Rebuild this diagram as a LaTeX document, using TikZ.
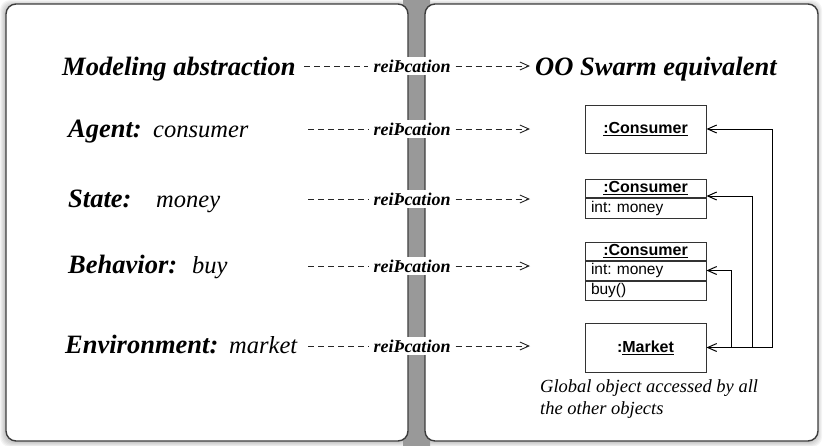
\documentclass[tikz,border=0pt]{standalone}
\usepackage{fontspec}
\setmainfont{Liberation Serif}
\newfontfamily\uisans{Liberation Sans}
\usetikzlibrary{arrows.meta,calc}
\frenchspacing

\definecolor{panelline}{HTML}{3C3C3C}

\begin{document}
\begin{tikzpicture}[x=1pt,y=-1pt,
  panel/.style={draw=panelline, line width=1.4pt, fill=white, rounded corners=10pt},
  concept/.style={anchor=base west, inner sep=0pt, font=\fontsize{26.5}{30}\selectfont\bfseries\itshape},
  example/.style={anchor=base west, inner sep=0pt, font=\fontsize{24.5}{28}\selectfont\itshape},
  reif/.style={fill=white, inner xsep=5pt, inner ysep=3pt, font=\fontsize{18}{20}\selectfont\bfseries\itshape},
  maplink/.style={draw=black!85, line width=0.9pt, dash pattern=on 6pt off 4pt},
  mapto/.style={maplink, -{Straight Barb[length=9pt,width=8pt]}},
  umlhead/.style={draw=black!80, line width=1pt, minimum width=121pt, inner sep=0pt,
    font=\uisans\fontsize{16}{18}\selectfont\bfseries},
  umlfield/.style={draw=black!80, line width=1pt, minimum width=121pt, text width=109pt,
    inner xsep=6pt, inner ysep=0pt, align=left, font=\uisans\fontsize{15.5}{17}\selectfont},
  refarrow/.style={draw=black, line width=1pt, -{Straight Barb[length=9pt,width=8pt]}},
]
\useasboundingbox (0,0) rectangle (824,445);

% soft shadows under the two panels
\foreach \k in {1,...,5}{
  \fill[black, opacity=0.045, rounded corners=10pt] ({6-\k-1},{4-\k+1}) rectangle ({408+\k-1},{441+\k+1});
  \fill[black, opacity=0.045, rounded corners=10pt] ({425-\k-1},{4-\k+1}) rectangle ({818+\k-1},{441+\k+1});
}
% grey channel between the panels
\shade[left color=gray!80, middle color=gray!22, right color=gray!80] (403,0) rectangle (430,445);

% panels
\path[panel] (6,4) rectangle (408,441);
\path[panel] (425,4) rectangle (818,441);

% column headings
\node[concept] (hdrL) at (62,75) {Modeling abstraction};
\node[concept] (hdrR) at (535,75) {OO Swarm equivalent};
\node[reif] (r0) at (412,66) {reiÞcation};
\coordinate (s0) at (304,66);
\coordinate (e0) at (530,66);
\draw[maplink] (s0) -- (r0);
\draw[mapto] (r0) -- (e0);

% concept rows
\node[concept] (agentL) at (68,137) {Agent:};
\node[example] (agentV) at (153,137) {consumer};
\node[concept] (stateL) at (68,207) {State:};
\node[example] (stateV) at (156,207) {money};
\node[concept] (behavL) at (68,273) {Behavior:};
\node[example] (behavV) at (192,273) {buy};
\node[concept] (envL) at (65,353) {Environment:};
\node[example] (envV) at (229,353) {market};

\foreach \n/\y in {1/129,2/199,3/266,4/346}{
  \node[reif] (r\n) at (412,\y) {reiÞcation};
  \coordinate (s\n) at (308,\y);
  \coordinate (e\n) at (530,\y);
  \draw[maplink] (s\n) -- (r\n);
  \draw[mapto] (r\n) -- (e\n);
}

% object boxes
\node[umlhead, minimum height=48pt] (b1) at (645.5,129) {\underline{:Consumer}};

\node[umlhead, minimum height=18pt] (b2h) at (645.5,188) {\underline{:Consumer}};
\node[umlfield, minimum height=20pt, anchor=north] (b2f) at (b2h.south) {int: money};

\node[umlhead, minimum height=18pt] (b3h) at (645.5,251) {\underline{:Consumer}};
\node[umlfield, minimum height=19pt, anchor=north] (b3f) at (b3h.south) {int: money};
\node[umlfield, minimum height=19pt, anchor=north] (b3m) at (b3f.south) {buy()};

\node[umlhead, minimum height=49pt] (mk) at (645.5,347.5) {:\underline{Market}};

% the second line sits on baseline 414
\node[anchor=base west, inner sep=0pt, align=left, font=\fontsize{18.5}{22}\selectfont\itshape]
  (note) at (540,414) {Global object accessed by all\\the other objects};

% references from the market to every object
\coordinate (j1) at (772,347.5);
\coordinate (j2) at (752,347.5);
\coordinate (j3) at (731,347.5);
\draw[refarrow] (j1) -- (mk.east);
\draw[refarrow] (j1) |- (b1.east);
\draw[refarrow] (j2) |- ([yshift=1.5pt]b2h.south east);
\draw[refarrow] (j3) |- (b3f.east);
\end{tikzpicture}
\end{document}
